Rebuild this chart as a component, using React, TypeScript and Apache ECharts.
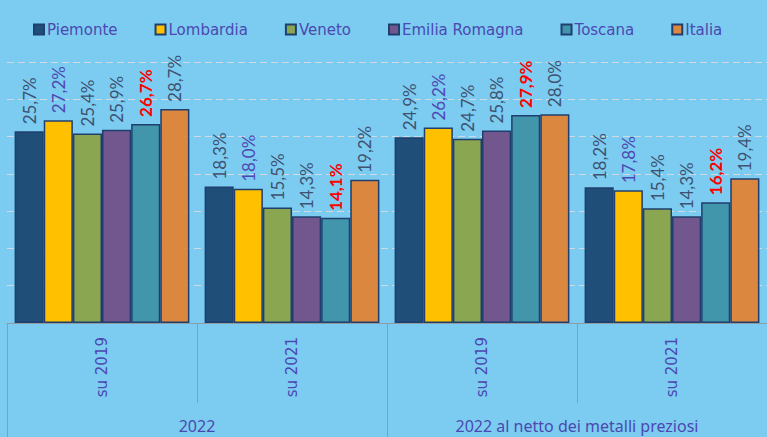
import React, { useEffect, useRef } from "react";
import * as echarts from "echarts";

const subCategories = ["su 2019", "su 2021", "su 2019", "su 2021"];
const groupCategories = ["2022", "2022 al netto dei metalli preziosi"];

const seriesNames = ["Piemonte", "Lombardia", "Veneto", "Emilia Romagna", "Toscana", "Italia"];
const piemonte = [25.7, 18.3, 24.9, 18.2];
const lombardia = [27.2, 18.0, 26.2, 17.8];
const veneto = [25.4, 15.5, 24.7, 15.4];
const emilia = [25.9, 14.3, 25.8, 14.3];
const toscana = [26.7, 14.1, 27.9, 16.2];
const italia = [28.7, 19.2, 28.0, 19.4];

const seriesValues = [piemonte, lombardia, veneto, emilia, toscana, italia];
const colors = ["#1F4E79", "#FFC000", "#8BA650", "#72578F", "#4196AC", "#DB8740"];
const labelColors = ["#3E5272", "#4E48B4", "#3E5272", "#3E5272", "#FF0000", "#3E5272"];
const labelBold = [false, false, false, false, true, false];

export default function App() {
  const ref = useRef<HTMLDivElement>(null);
  useEffect(() => {
    document.body.style.margin = "0";
    const chart = echarts.init(ref.current!, null, { renderer: "svg" });
    const textBlue = "#4B48B0";
    const lineGrey = "#8E9CA6";
    chart.setOption({
      animation: false,
      backgroundColor: "#7BCCF0",
      legend: {
        top: 17,
        left: 28,
        itemWidth: 10,
        itemHeight: 10,
        itemGap: 37,
        icon: "rect",
        textStyle: { color: textBlue, fontFamily: "DejaVu Sans", fontSize: 15, padding: [0, 0, 0, -2] },
        data: seriesNames,
      },
      grid: { left: 7, top: 62, width: 768, height: 261 },
      xAxis: [
        {
          type: "category",
          data: subCategories,
          position: "bottom",
          axisLine: { show: true, lineStyle: { color: lineGrey, width: 1 } },
          axisTick: { show: true, length: 80, interval: 0, lineStyle: { color: lineGrey } },
          axisLabel: {
            interval: 0,
            rotate: 90,
            margin: 14,
            color: textBlue,
            fontFamily: "DejaVu Sans",
            fontSize: 15,
          },
        },
        {
          type: "category",
          data: groupCategories,
          position: "bottom",
          offset: 80,
          axisLine: { show: false },
          axisTick: { show: true, length: 34, interval: 0, lineStyle: { color: lineGrey } },
          axisLabel: {
            interval: 0,
            margin: 15,
            color: textBlue,
            fontFamily: "Noto Sans",
            fontSize: 16,
          },
        },
      ],
      yAxis: {
        type: "value",
        min: 0,
        max: 35,
        interval: 5,
        axisLabel: { show: false },
        axisLine: { show: false },
        axisTick: { show: false },
        splitLine: { show: true, lineStyle: { color: "#D2DAE0", type: [7, 4], width: 1.2 } },
      },
      series: seriesNames.map((name, i) => ({
        name,
        type: "bar",
        xAxisIndex: 0,
        data: seriesValues[i],
        barGap: "0%",
        barCategoryGap: "8%",
        itemStyle: { color: colors[i], borderColor: "#1F3F6E", borderWidth: 1.5 },
        label: {
          show: true,
          position: "top",
          rotate: 90,
          align: "left",
          verticalAlign: "middle",
          distance: 7,
          color: labelColors[i],
          fontWeight: labelBold[i] ? "bold" : "normal",
          fontFamily: "Lato",
          fontSize: 17,
          formatter: (p: any) => p.value.toFixed(1).replace(".", ",") + "%",
        },
      })),
    });
    return () => chart.dispose();
  }, []);
  return <div ref={ref} style={{ width: 767, height: 437 }} />;
}
